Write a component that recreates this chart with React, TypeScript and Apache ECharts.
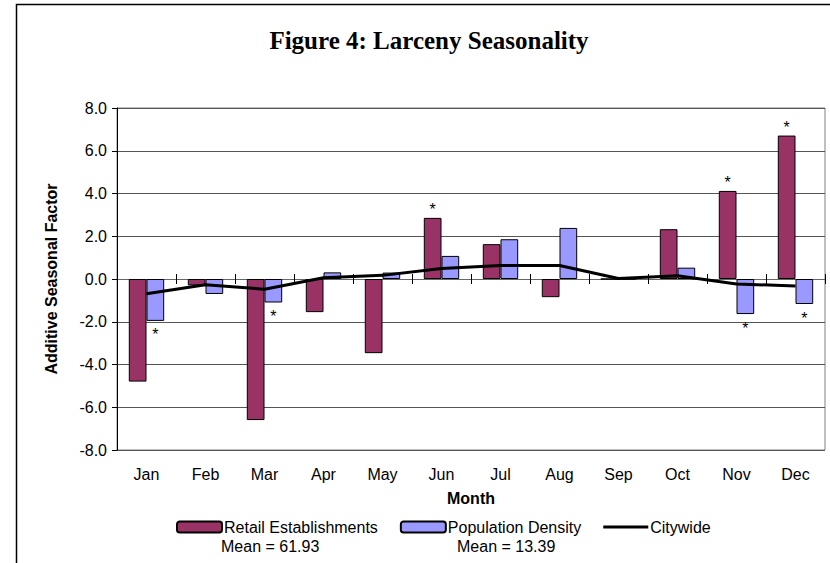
import React, { useEffect, useRef } from "react";
import * as echarts from "echarts";

const months = ["Jan", "Feb", "Mar", "Apr", "May", "Jun", "Jul", "Aug", "Sep", "Oct", "Nov", "Dec"];
const retailValues = [-4.8, -0.3, -6.6, -1.55, -3.47, 2.86, 1.63, -0.85, 0, 2.33, 4.12, 6.71];
const populationValues = [-1.96, -0.7, -1.1, 0.31, 0.3, 1.08, 1.86, 2.39, 0, 0.53, -1.64, -1.17];
const citywideValues = [-0.69, -0.27, -0.48, 0.06, 0.17, 0.49, 0.63, 0.63, 0.02, 0.15, -0.23, -0.33];
const retailSignificant = [false, false, false, false, false, true, false, false, false, false, true, true];
const populationSignificant = [true, false, true, false, false, false, false, false, false, false, true, true];
const seriesNames = ["Retail Establishments", "Population Density", "Citywide"];
const seriesMeans = ["Mean = 61.93", "Mean = 13.39"];
const titleText = "Figure 4: Larceny Seasonality";

const SANS = "Liberation Sans, Arial, sans-serif";

function starData(values: number[], flags: boolean[]) {
  return values.map((v, i) =>
    flags[i]
      ? {
          value: v,
          label: {
            show: true,
            position: v >= 0 ? "top" : "bottom",
            distance: v >= 0 ? 0 : 6,
            formatter: "*",
            fontFamily: SANS,
            fontSize: 16,
            color: "#000",
          },
        }
      : v
  );
}

export default function App() {
  const ref = useRef<HTMLDivElement>(null);
  useEffect(() => {
    if (!ref.current) return;
    const chart = echarts.init(ref.current, null, { renderer: "svg" });
    chart.setOption({
      animation: false,
      backgroundColor: "#fff",
      textStyle: { fontFamily: SANS },
      graphic: [
        {
          type: "rect",
          shape: { x: 16.5, y: 4.5, width: 900, height: 700 },
          style: { fill: "none", stroke: "#000", lineWidth: 1.5 },
          silent: true,
        },
        {
          type: "text",
          x: 429,
          y: 40,
          style: {
            text: titleText,
            textAlign: "center",
            textVerticalAlign: "middle",
            fontFamily: "Liberation Serif, Times New Roman, serif",
            fontWeight: "bold",
            fontSize: 25,
            fill: "#000",
          },
        },
        {
          type: "text",
          x: 221,
          y: 546,
          style: { text: seriesMeans[0], textVerticalAlign: "middle", fontFamily: SANS, fontSize: 16, fill: "#000" },
        },
        {
          type: "text",
          x: 457,
          y: 546,
          style: { text: seriesMeans[1], textVerticalAlign: "middle", fontFamily: SANS, fontSize: 16, fill: "#000" },
        },
      ],
      legend: {
        left: 171,
        top: 514,
        itemWidth: 45,
        itemHeight: 11,
        itemGap: 22,
        symbolKeepAspect: true,
        textStyle: { fontFamily: SANS, fontSize: 16, color: "#000", padding: [0, 0, 0, -3] },
        data: [
          { name: seriesNames[0] },
          { name: seriesNames[1] },
          { name: seriesNames[2], icon: "path://M0,0 L45,0 L45,3 L0,3 Z", itemStyle: { color: "#000" } },
        ],
      },
      grid: {
        left: 117,
        right: 5,
        top: 108,
        bottom: 113,
        show: true,
        borderColor: "#808080",
        borderWidth: 1,
        containLabel: false,
      },
      xAxis: [
        {
          type: "category",
          data: months,
          position: "bottom",
          axisLine: { show: false, onZero: false },
          axisTick: { show: false },
          axisLabel: { color: "#000", fontSize: 16, margin: 16, fontFamily: SANS },
          name: "Month",
          nameLocation: "middle",
          nameGap: 40,
          nameTextStyle: { fontWeight: "bold", fontSize: 16, color: "#000", fontFamily: SANS },
        },
        {
          type: "category",
          data: months,
          position: "bottom",
          axisLine: { show: true, onZero: true, onZeroAxisIndex: 0, lineStyle: { color: "#666", width: 1 } },
          axisTick: { show: true, length: 5, lineStyle: { color: "#000" } },
          axisLabel: { show: false },
        },
        {
          type: "category",
          data: months,
          position: "top",
          axisLine: { show: false, onZero: true, onZeroAxisIndex: 1 },
          axisTick: { show: true, length: 5, lineStyle: { color: "#000" } },
          axisLabel: { show: false },
        },
      ],
      yAxis: [
        {
          type: "value",
          min: -8,
          max: 8,
          interval: 2,
          axisLine: { show: true, lineStyle: { color: "#000", width: 1 } },
          axisTick: { show: true, length: 5, lineStyle: { color: "#000" } },
          axisLabel: {
            color: "#000",
            fontSize: 16,
            margin: 10,
            fontFamily: SANS,
            formatter: (v: number) => v.toFixed(1),
          },
          splitLine: { show: true, lineStyle: { color: "#555", width: 1 } },
          name: "Additive Seasonal Factor",
          nameLocation: "middle",
          nameGap: 58,
          nameTextStyle: { fontWeight: "bold", fontSize: 16, color: "#000", fontFamily: SANS },
        },
        {
          type: "value",
          min: -8,
          max: 8,
          interval: 2,
          position: "right",
          axisLine: { show: false },
          axisTick: { show: false },
          axisLabel: { show: false },
          splitLine: { show: false },
        },
      ],
      series: [
        {
          name: seriesNames[0],
          type: "bar",
          xAxisIndex: 0,
          data: starData(retailValues, retailSignificant),
          barGap: "0%",
          barCategoryGap: "40%",
          itemStyle: { color: "#993366", borderColor: "#000", borderWidth: 1 },
        },
        {
          name: seriesNames[1],
          type: "bar",
          xAxisIndex: 0,
          data: starData(populationValues, populationSignificant),
          barGap: "0%",
          barCategoryGap: "40%",
          itemStyle: { color: "#9999FF", borderColor: "#000", borderWidth: 1 },
        },
        {
          name: seriesNames[2],
          type: "line",
          xAxisIndex: 0,
          data: citywideValues,
          symbol: "none",
          lineStyle: { color: "#000", width: 3 },
          itemStyle: { color: "#000" },
          z: 5,
        },
      ],
    });
    return () => chart.dispose();
  }, []);
  return <div ref={ref} style={{ position: "fixed", left: 0, top: 0, width: 830, height: 563 }} />;
}
